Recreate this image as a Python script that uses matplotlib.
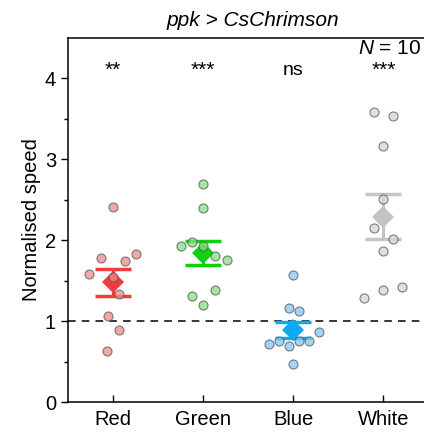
import numpy as np
import matplotlib
matplotlib.use("Agg")
import matplotlib.pyplot as plt

plt.rcParams['font.family'] = ['Liberation Sans', 'DejaVu Sans']
plt.rcParams['mathtext.fontset'] = 'custom'
plt.rcParams['mathtext.rm'] = 'Liberation Sans'
plt.rcParams['mathtext.it'] = 'Liberation Sans:italic'

# Data
categories = ['Red', 'Green', 'Blue', 'White']
red = [2.41, 1.78, 1.74, 1.83, 1.58, 1.55, 1.34, 1.06, 0.89, 0.63]
green = [2.70, 2.40, 1.93, 1.98, 1.93, 1.80, 1.75, 1.38, 1.31, 1.20]
blue = [1.57, 1.16, 1.13, 0.87, 0.72, 0.75, 0.69, 0.75, 0.76, 0.47]
white = [3.59, 3.54, 3.17, 2.51, 2.15, 2.01, 1.87, 1.42, 1.38, 1.29]
significance = ['**', '***', 'ns', '***']

# horizontal jitter (category units) used in the swarm
red_jit = [0.0, -0.13, 0.13, 0.26, -0.26, 0.0, 0.065, -0.06, 0.065, -0.065]
green_jit = [0.0, 0.0, -0.25, -0.12, 0.0, 0.13, 0.26, 0.13, -0.12, 0.0]
blue_jit = [0.0, -0.05, 0.06, 0.28, -0.27, -0.16, -0.05, 0.06, 0.17, 0.0]
white_jit = [-0.1, 0.11, 0.0, 0.0, -0.1, 0.11, 0.0, 0.21, 0.0, -0.21]

groups = [red, green, blue, white]
jitters = [red_jit, green_jit, blue_jit, white_jit]
point_colors = ['#f08a8a', '#82e082', '#80c8f5', '#d6d6d6']
mean_colors = ['#f03c3c', '#10d010', '#10a8f0', '#c4c4c4']

fig = plt.figure(figsize=(4.24, 4.32), dpi=100)
ax = fig.add_axes([0.160, 0.0694, 0.84, 0.8426])

ax.axhline(1, color='black', lw=1.1, ls=(0, (5, 4)), zorder=1)

cap_half = 0.2
for i, (vals, jit) in enumerate(zip(groups, jitters)):
    x = i + 1
    vals = np.array(vals)
    m = vals.mean()
    sem = vals.std(ddof=1) / np.sqrt(len(vals))
    c = mean_colors[i]
    ax.vlines(x, m - sem, m + sem, color=c, lw=2.2, zorder=2)
    ax.hlines([m - sem, m + sem], x - cap_half, x + cap_half, color=c,
              lw=2.5, zorder=2)
    ax.plot(x, m, 'D', ms=11.5, color=c, mew=0, zorder=2)
    ax.scatter(x + np.array(jit), vals, s=42, color=point_colors[i],
               edgecolor='#555555', linewidth=0.8, alpha=0.75, zorder=3)
    ax.text(x, 4.1, significance[i], ha='center', va='center',
            fontsize=14 if significance[i] == 'ns' else 15)

ax.text(4.42, 4.37, '$N$ = 10', ha='right', va='center', fontsize=15)

ax.set_xlim(0.5, 4.45)
ax.set_ylim(0, 4.5)
ax.set_xticks(range(1, 5))
ax.set_xticklabels(categories, fontsize=14.5)
ax.set_yticks([0, 1, 2, 3, 4])
ax.set_yticks([0.5, 1.5, 2.5, 3.5], minor=True)
ax.tick_params(axis='y', labelsize=14.5, length=5, width=1, direction='out')
ax.tick_params(axis='y', which='minor', length=3, width=1)
ax.tick_params(axis='x', length=5, width=1, direction='in', pad=6)
ax.set_ylabel('Normalised speed', fontsize=14.5, labelpad=3)
ax.spines['right'].set_visible(False)
for s in ['left', 'bottom', 'top']:
    ax.spines[s].set_linewidth(1.1)

fig.text(253 / 424, 1 - 20 / 432, 'ppk > CsChrimson', ha='center', va='center',
         fontsize=15, style='italic')

fig.savefig('out.png', dpi=100)
